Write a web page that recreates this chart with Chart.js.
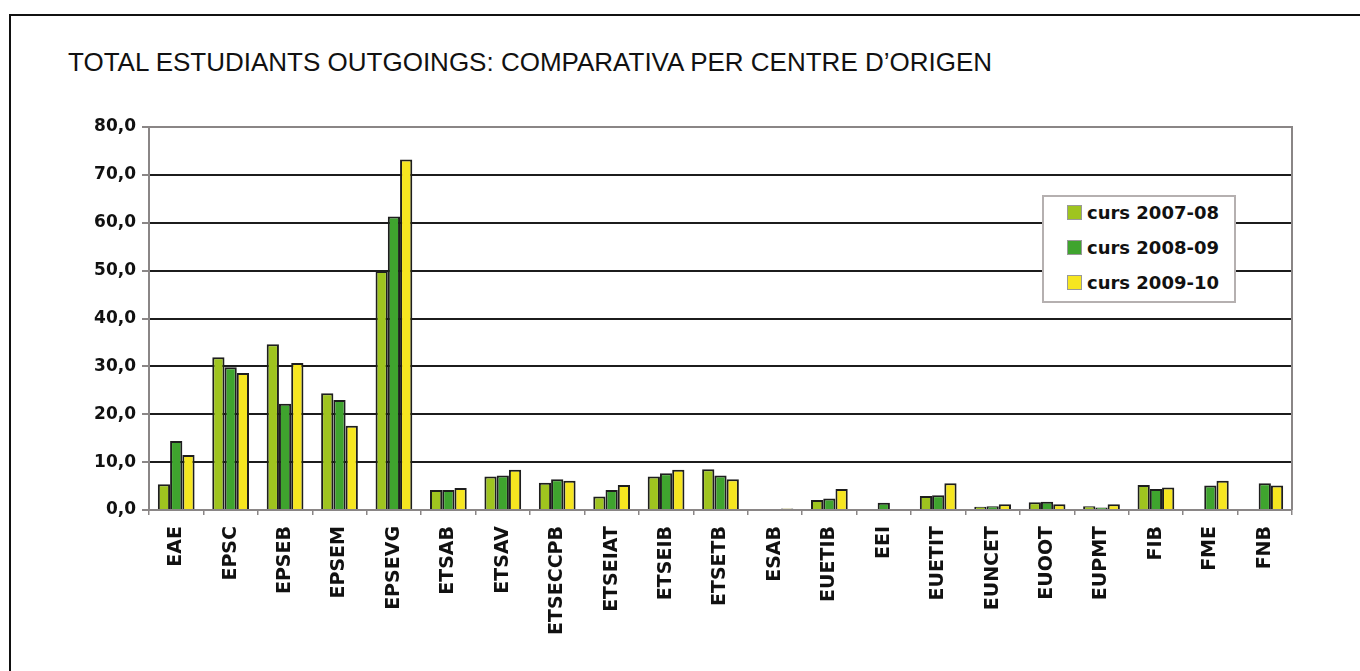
<!DOCTYPE html>
<html lang="ca">
  <head>
    <meta charset="UTF-8" />
    <title>Total estudiants outgoings</title>
    <script src="https://cdn.jsdelivr.net/npm/chart.js"></script>
    <style>
      body {
        margin: 0;
        background: #fff;
        width: 1360px;
        height: 671px;
        overflow: hidden;
        position: relative;
      }
      .frame {
        position: absolute;
        left: 9px;
        top: 14px;
        width: 1400px;
        height: 700px;
        border-left: 2px solid #111;
        border-top: 2px solid #111;
      }
      .title {
        position: absolute;
        left: 68px;
        top: 47px;
        font: 26px "Liberation Sans", Arial, sans-serif;
        color: #111;
        white-space: nowrap;
      }
      #wrap {
        position: absolute;
        left: 0;
        top: 0;
        width: 1360px;
        height: 671px;
      }
      #legend {
        position: absolute;
        left: 1042px;
        top: 195px;
        width: 190px;
        height: 104px;
        background: #fff;
        border: 2px solid #b5b0b0;
        font: bold 18px "DejaVu Sans", sans-serif;
        color: #111;
      }
      #legend div {
        position: absolute;
        left: 23px;
        white-space: nowrap;
        line-height: 20px;
      }
      #legend span {
        display: inline-block;
        width: 13px;
        height: 13px;
        margin-right: 5px;
        border: 1px solid #999;
        vertical-align: -1px;
      }
    </style>
  </head>
  <body>
    <div class="frame"></div>
    <div class="title">TOTAL ESTUDIANTS OUTGOINGS: COMPARATIVA PER CENTRE D’ORIGEN</div>
    <div id="wrap"><canvas id="chart"></canvas></div>
    <div id="legend"></div>

    <script>
      const categories = [
        "EAE", "EPSC", "EPSEB", "EPSEM", "EPSEVG", "ETSAB", "ETSAV",
        "ETSECCPB", "ETSEIAT", "ETSEIB", "ETSETB", "ESAB", "EUETIB", "EEI",
        "EUETIT", "EUNCET", "EUOOT", "EUPMT", "FIB", "FME", "FNB",
      ];
      const seriesNames = ["curs 2007-08", "curs 2008-09", "curs 2009-10"];
      const curs0708 = [5.4, 31.9, 34.6, 24.4, 49.9, 4.2, 7.0, 5.7, 2.8, 7.0, 8.5, null, 2.1, null, 2.9, 0.7, 1.6, 0.8, 5.2, null, null];
      const curs0809 = [14.4, 29.8, 22.2, 23.0, 61.3, 4.2, 7.2, 6.4, 4.2, 7.7, 7.2, null, 2.4, 1.5, 3.1, 0.8, 1.7, 0.5, 4.4, 5.1, 5.6];
      const curs0910 = [11.5, 28.6, 30.7, 17.6, 73.2, 4.6, 8.4, 6.1, 5.2, 8.4, 6.4, 0.3, 4.4, null, 5.6, 1.2, 1.2, 1.2, 4.7, 6.1, 5.1];
      const yTicks = [0, 10, 20, 30, 40, 50, 60, 70, 80];

      const colors = ["#9fc41f", "#3fa42e", "#f6e620"];
      const values = [curs0708, curs0809, curs0910];

      // gray frame on top/right of the plot area
      const plotFrame = {
        id: "plotFrame",
        beforeDatasetsDraw(chart) {
          const { ctx, chartArea: a } = chart;
          ctx.save();
          ctx.strokeStyle = "#8a8686";
          ctx.lineWidth = 2;
          ctx.beginPath();
          ctx.moveTo(a.left, a.top);
          ctx.lineTo(a.right, a.top);
          ctx.lineTo(a.right, a.bottom);
          ctx.stroke();
          ctx.restore();
        },
      };

      const tickFont = { family: "DejaVu Sans", weight: "bold", size: 17 };

      new Chart(document.getElementById("chart"), {
        type: "bar",
        data: {
          labels: categories,
          datasets: seriesNames.map((name, i) => ({
            label: name,
            data: values[i],
            backgroundColor: colors[i],
            borderColor: "#1e1e1e",
            borderWidth: 2,
            categoryPercentage: 0.675,
            barPercentage: 1,
          })),
        },
        options: {
          responsive: true,
          maintainAspectRatio: false,
          animation: false,
          layout: { padding: { left: 0, top: 127, right: 68, bottom: 0 } },
          plugins: {
            legend: { display: false },
            tooltip: { enabled: false },
          },
          scales: {
            x: {
              afterFit(scale) {
                scale.height = 161;
              },
              border: { color: "#8a8686", width: 2 },
              grid: {
                offset: true,
                drawOnChartArea: false,
                tickLength: 5,
                tickColor: "#8a8686",
                lineWidth: 1.5,
              },
              ticks: {
                minRotation: 90,
                maxRotation: 90,
                autoSkip: false,
                padding: 11,
                color: "#111",
                font: { ...tickFont, size: 19 },
              },
            },
            y: {
              min: 0,
              max: 80,
              afterFit(scale) {
                scale.width = 149;
              },
              afterBuildTicks(scale) {
                scale.ticks = yTicks.map((v) => ({ value: v }));
              },
              border: { color: "#8a8686", width: 2 },
              grid: {
                color: (c) =>
                  c.tick && (c.tick.value === 0 || c.tick.value === 80)
                    ? "#8a8686"
                    : "#1c1c1c",
                lineWidth: 2,
                tickLength: 7,
                tickColor: "#8a8686",
              },
              ticks: {
                padding: 6,
                color: "#111",
                font: tickFont,
                callback: (v) => v.toFixed(1).replace(".", ","),
              },
            },
          },
        },
        plugins: [plotFrame],
      });

      // legend box inside the plot
      const legend = document.getElementById("legend");
      seriesNames.forEach((name, i) => {
        const row = document.createElement("div");
        row.style.top = 6 + i * 35 + "px";
        const sw = document.createElement("span");
        sw.style.background = colors[i];
        row.appendChild(sw);
        row.appendChild(document.createTextNode(name));
        legend.appendChild(row);
      });
    </script>
  </body>
</html>
